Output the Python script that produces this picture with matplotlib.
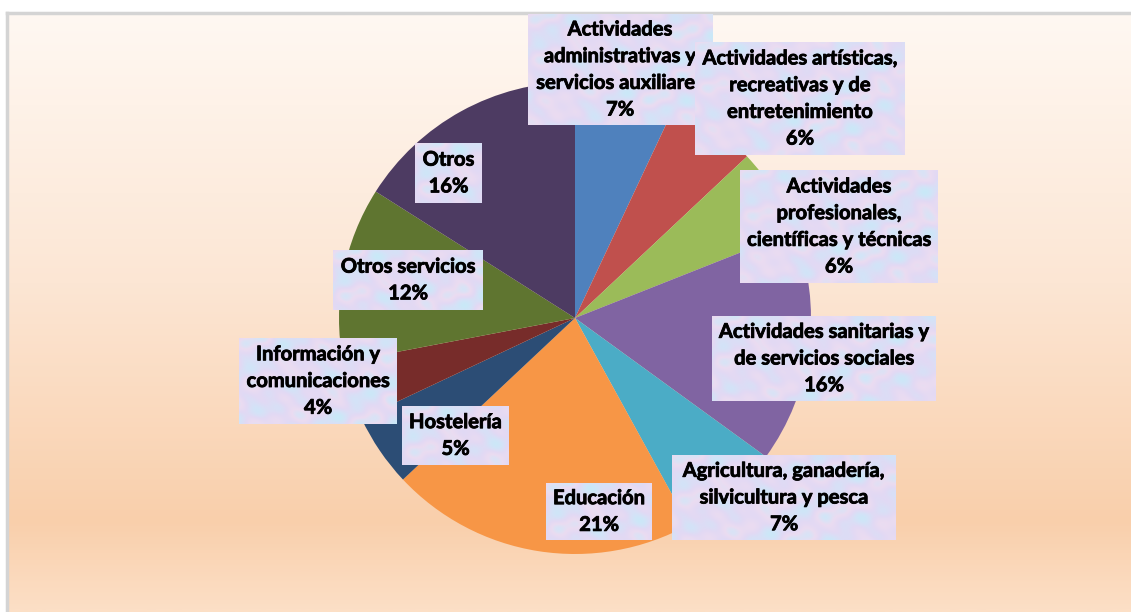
import numpy as np
import matplotlib.pyplot as plt
import matplotlib.patheffects as pe
from matplotlib.colors import LinearSegmentedColormap

plt.rcParams['font.family'] = ['Lato', 'DejaVu Sans']

# datos
sectores = ["Actividades\nadministrativas y\nservicios auxiliares",
            "Actividades artísticas,\nrecreativas y de\nentretenimiento",
            "Actividades\nprofesionales,\ncientíficas y técnicas",
            "Actividades sanitarias y\nde servicios sociales",
            "Agricultura, ganadería,\nsilvicultura y pesca",
            "Educación",
            "Hostelería",
            "Información y\ncomunicaciones",
            "Otros servicios",
            "Otros"]
porcentajes = [7, 6, 6, 16, 7, 21, 5, 4, 12, 16]
colores = ['#4F81BD', '#C0504D', '#9BBB59', '#8064A2', '#4BACC6',
           '#F79646', '#2C4D75', '#772C2A', '#5F7530', '#4D3B62']

# cajas de etiquetas en pixeles (x0, y0, x1, y1) desde arriba a la izquierda
cajas = [(528, 14, 712, 125), (695, 42, 905, 155), (740, 170, 938, 283),
         (712, 316, 936, 401), (672, 455, 896, 540), (546, 483, 652, 540),
         (402, 406, 509, 465), (239, 338, 397, 424), (333, 250, 483, 310),
         (415, 143, 482, 203)]

W, H = 1131, 612
fig = plt.figure(figsize=(W / 100, H / 100), dpi=100)
fig.patch.set_facecolor('white')

# fondo degradado
bg = fig.add_axes([7 / W, 0, 1 - 7 / W, (H - 13) / H])
fondo = LinearSegmentedColormap.from_list('fondo', [(0, '#FFF8F2'), (0.45, '#FCE6D4'),
                                                    (0.85, '#F9CFAB'), (1, '#FCDFC6')])
bg.imshow(np.linspace(0, 1, 300).reshape(-1, 1), aspect='auto', cmap=fondo,
          extent=[0, 1, 0, 1], origin='upper')
bg.set_xlim(0, 1)
bg.set_ylim(0, 1)
bg.axis('off')
# borde gris
fig.add_artist(plt.Line2D([7 / W, 1], [(H - 13) / H] * 2, color='#D4D4D4', lw=2.5))
fig.add_artist(plt.Line2D([7 / W] * 2, [0, (H - 13) / H], color='#D4D4D4', lw=2.5))

# tarta
cx, cy, r = 575, 318, 236
ax = fig.add_axes([(cx - r) / W, (H - cy - r) / H, 2 * r / W, 2 * r / H])
ax.pie(porcentajes, colors=colores, startangle=90, counterclock=False, radius=1,
       wedgeprops=dict(linewidth=0))
ax.set_xlim(-1, 1)
ax.set_ylim(-1, 1)
ax.set_aspect('auto')
ax.axis('off')

# textura suave de las cajas (azul / lila / rosa)
textura = LinearSegmentedColormap.from_list('textura', ['#C9E9F8', '#D5E2F7', '#E2D9F4', '#EBDCF1', '#D2E6F8'])
gx, gy = np.meshgrid(np.arange(240), np.arange(130))
patron = (np.sin(gx / 9.0) * np.cos(gy / 6.5) + np.sin((gx + 1.7 * gy) / 13.0)
          + 0.5 * np.cos(gx / 4.1 - gy / 5.3) + 0.4 * np.sin(gy / 3.3 + gx / 17.0))

# etiquetas
for i, (nombre, pct, caja) in enumerate(zip(sectores, porcentajes, cajas)):
    x0, y0, x1, y1 = caja
    z = 10 + 3 * i
    tax = fig.add_axes([x0 / W, 1 - y1 / H, (x1 - x0) / W, (y1 - y0) / H], zorder=z)
    tax.imshow(patron[:y1 - y0, :x1 - x0], cmap=textura, aspect='auto',
               extent=[0, 1, 0, 1], interpolation='bicubic')
    tax.set_xlim(0, 1)
    tax.set_ylim(0, 1)
    tax.axis('off')
    tax.text(0.5, 0.5, nombre + "\n" + str(pct) + "%", transform=tax.transAxes,
             ha='center', va='center', fontsize=14.5, fontweight='bold',
             linespacing=1.42, color='black', clip_on=False,
             path_effects=[pe.withStroke(linewidth=0.6, foreground='black')])

fig.savefig('out.png', dpi=100)
